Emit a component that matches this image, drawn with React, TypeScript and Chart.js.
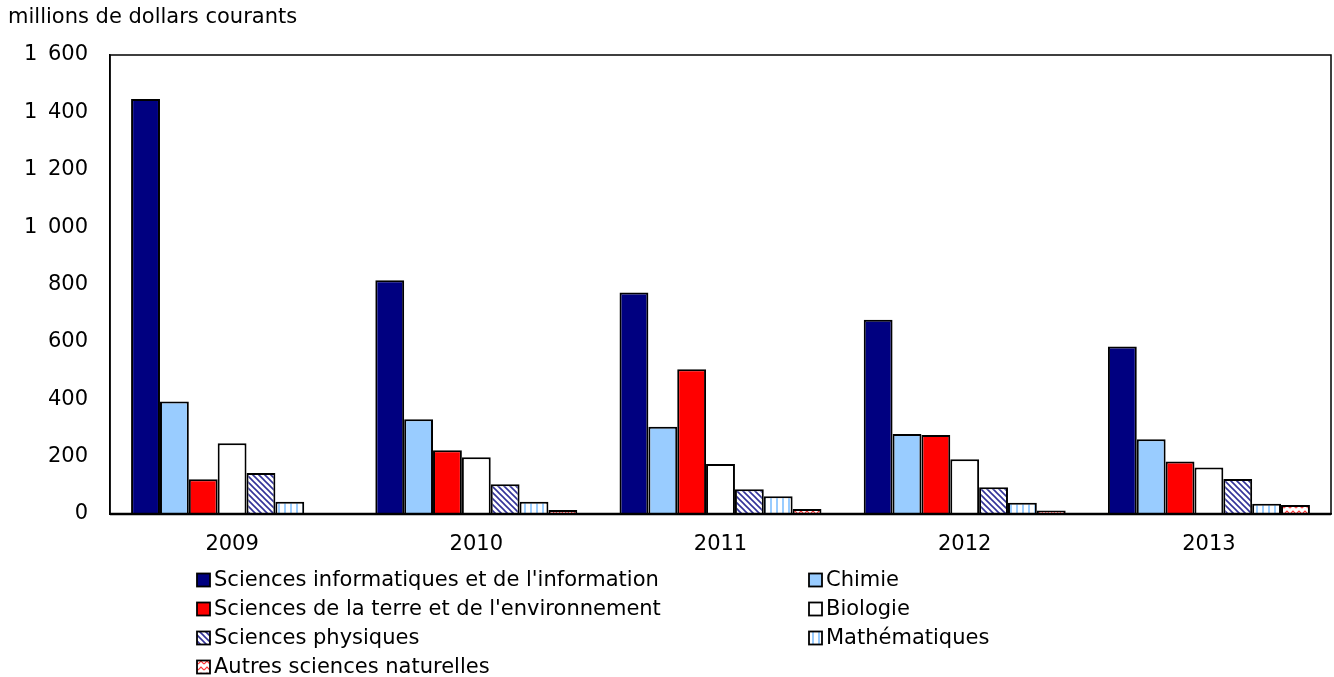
import React, { useEffect, useRef } from "react";
import { Chart, registerables } from "chart.js";

Chart.register(...registerables);

const years = ["2009", "2010", "2011", "2012", "2013"];
const informatique = [1447, 815, 772, 677, 584];
const chimie = [392, 330, 304, 279, 261];
const terre = [121, 222, 505, 275, 183];
const biologie = [247, 198, 174, 191, 162];
const physiques = [143, 104, 86, 93, 122];
const mathematiques = [43, 43, 62, 39, 36];
const autres = [null, 14, 17, 12, 31];
const seriesLabels = [
  "Sciences informatiques et de l'information",
  "Chimie",
  "Sciences de la terre et de l'environnement",
  "Biologie",
  "Sciences physiques",
  "Mathématiques",
  "Autres sciences naturelles",
];
const yTicks = [0, 200, 400, 600, 800, 1000, 1200, 1400, 1600];
const unitTitle = "millions de dollars courants";

const FONT = "DejaVu Sans";

function makePattern(kind: string): CanvasPattern | string {
  const c = document.createElement("canvas");
  const size = 6;
  c.width = size;
  c.height = size;
  const g = c.getContext("2d")!;
  g.fillStyle = "#ffffff";
  g.fillRect(0, 0, size, size);
  if (kind === "diag") {
    g.strokeStyle = "#333399";
    g.lineWidth = 1.6;
    g.beginPath();
    g.moveTo(-1, -1);
    g.lineTo(size + 1, size + 1);
    g.moveTo(-1, size - 1);
    g.lineTo(1, size + 1);
    g.moveTo(size - 1, -1);
    g.lineTo(size + 1, 1);
    g.stroke();
  } else if (kind === "vert") {
    g.fillStyle = "#99ccff";
    g.fillRect(2, 0, 2, size);
  } else if (kind === "wave") {
    g.strokeStyle = "#ff3333";
    g.lineWidth = 1.2;
    g.beginPath();
    g.moveTo(0, 4);
    g.lineTo(3, 1);
    g.lineTo(6, 4);
    g.stroke();
  }
  return g.createPattern(c, "repeat") as CanvasPattern;
}

export default function App() {
  const ref = useRef<HTMLCanvasElement | null>(null);

  useEffect(() => {
    if (!ref.current) return;
    const fills: any[] = [
      "#000080",
      "#99ccff",
      "#ff0000",
      "#ffffff",
      makePattern("diag"),
      makePattern("vert"),
      makePattern("wave"),
    ];
    const data = [informatique, chimie, terre, biologie, physiques, mathematiques, autres];

    const framePlugin = {
      id: "frame",
      afterDatasetsDraw(chart: any) {
        const { ctx, chartArea } = chart;
        ctx.save();
        ctx.strokeStyle = "#000";
        ctx.lineWidth = 1.5;
        ctx.strokeRect(chartArea.left, chartArea.top, chartArea.right - chartArea.left, chartArea.bottom - chartArea.top);
        ctx.lineWidth = 2.5;
        ctx.beginPath();
        ctx.moveTo(chartArea.left, chartArea.bottom);
        ctx.lineTo(chartArea.right, chartArea.bottom);
        ctx.stroke();
        ctx.restore();
      },
      afterDraw(chart: any) {
        const { ctx } = chart;
        ctx.save();
        ctx.fillStyle = "#000";
        ctx.font = `21px '${FONT}'`;
        ctx.textBaseline = "middle";
        ctx.textAlign = "left";
        ctx.fillText(unitTitle, 8, 18);
        const rows = [580, 609, 638, 667];
        const cols = [197, 809];
        seriesLabels.forEach((lab, i) => {
          const col = i % 2;
          const row = Math.floor(i / 2);
          const x = cols[col];
          const y = rows[row];
          ctx.fillStyle = fills[i];
          ctx.fillRect(x, y - 6.5, 13, 13);
          ctx.strokeStyle = "#000";
          ctx.lineWidth = 1.8;
          ctx.strokeRect(x, y - 6.5, 13, 13);
          ctx.fillStyle = "#000";
          ctx.fillText(lab, x + 17, y + 1);
        });
        ctx.restore();
      },
    };

    const chart = new Chart(ref.current, {
      type: "bar",
      data: {
        labels: years,
        datasets: seriesLabels.map((lab, i) => ({
          label: lab,
          data: data[i] as any,
          backgroundColor: fills[i],
          borderColor: "#000",
          borderWidth: 2,
          barPercentage: 1,
          categoryPercentage: 0.827,
        })),
      },
      options: {
        responsive: false,
        animation: false,
        layout: { padding: { left: 0, right: 3, top: 55, bottom: 123 } },
        plugins: {
          legend: { display: false },
          tooltip: { enabled: false },
          title: { display: false },
        },
        scales: {
          x: {
            grid: { display: false, drawTicks: false },
            border: { display: true, color: "#000", width: 1.5 },
            ticks: { color: "#000", font: { family: FONT, size: 21 }, padding: 18, maxRotation: 0 },
            afterFit(scale: any) {
              scale.height = 40;
            },
          },
          y: {
            min: 0,
            max: 1600,
            grid: { display: false, drawTicks: false },
            border: { display: true, color: "#000", width: 1.5 },
            afterBuildTicks(scale: any) {
              scale.ticks = yTicks.map((v) => ({ value: v }));
            },
            ticks: {
              color: "#000",
              font: { family: FONT, size: 21 },
              padding: 22,
              callback: (v: any) => {
                const n = Number(v);
                return n >= 1000 ? `${Math.floor(n / 1000)}\u2002${String(n % 1000).padStart(3, "0")}` : String(n);
              },
            },
            afterFit(scale: any) {
              scale.width = 110;
            },
          },
        },
      },
      plugins: [framePlugin],
    });
    return () => chart.destroy();
  }, []);

  return (
    <div style={{ position: "fixed", left: 0, top: 0, width: 1334, height: 677, background: "#fff" }}>
      <canvas ref={ref} width={1334} height={677} style={{ width: 1334, height: 677 }} />
    </div>
  );
}
